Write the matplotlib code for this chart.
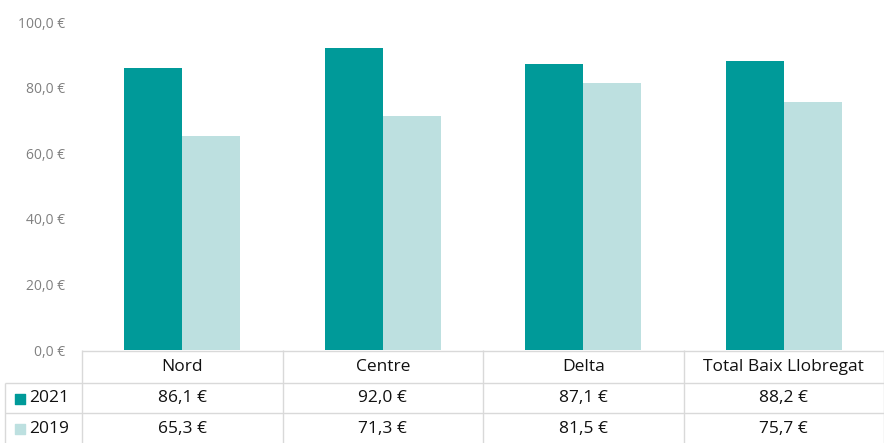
import numpy as np
from matplotlib import pyplot as plt

plt.rcParams['font.family'] = ['Open Sans', 'DejaVu Sans']

categories = ["Nord", "Centre", "Delta", "Total Baix Llobregat"]
series_names = ["2021", "2019"]
values_2021 = [86.1, 92.0, 87.1, 88.2]
values_2019 = [65.3, 71.3, 81.5, 75.7]
yticks = [0, 20, 40, 60, 80, 100]

colors = ["#009a99", "#bde0e0"]
grid_col = "#d9d9d9"
txt_col = "#111111"


def euro(v):
    return f"{v:.1f}".replace(".", ",") + " €"


W, H = 884, 443
fig = plt.figure(figsize=(W / 100, H / 100), dpi=100)

# main bar axes: plot area from x=82 to 884 px, y=22 to 350 px
ax = fig.add_axes([82 / W, (H - 350) / H, (W - 82) / W, 328 / H])
x = np.arange(len(categories))
bw = 0.29
ax.bar(x - bw / 2, values_2021, bw, color=colors[0])
ax.bar(x + bw / 2, values_2019, bw, color=colors[1])
ax.set_xlim(-0.5, len(categories) - 0.5)
ax.set_ylim(0, 100)
ax.set_yticks(yticks)
ax.set_yticklabels([euro(v) for v in yticks], color="#808080", fontsize=10)
ax.tick_params(axis="y", length=0, pad=12)
ax.set_xticks([])
for s in ax.spines.values():
    s.set_visible(False)

# data table below the plot
ppx = (W - 82) / len(categories)
tab = fig.add_axes([0, 0, 1, 93 / H])
left = -0.5 - 82 / ppx
tab.set_xlim(left, len(categories) - 0.5)
tab.set_ylim(93, 0)
tab.axis("off")
x0 = left + 5 / ppx

tab.hlines(0.5, -0.5, len(categories) - 0.5, color=grid_col, lw=1)
tab.hlines([33, 63], x0, len(categories) - 0.5, color=grid_col, lw=1)
tab.vlines(np.arange(len(categories) + 1) - 0.5, 0, 93, color=grid_col, lw=1)
tab.vlines(x0, 33, 93, color=grid_col, lw=1)

for i, c in enumerate(categories):
    tab.text(i, 17, c, ha="center", va="center", fontsize=12.5, color=txt_col)
    tab.text(i, 48.5, euro(values_2021[i]), ha="center", va="center", fontsize=12.5, color=txt_col)
    tab.text(i, 79, euro(values_2019[i]), ha="center", va="center", fontsize=12.5, color=txt_col)

for row_y, name, col in [(48.5, series_names[0], colors[0]), (79, series_names[1], colors[1])]:
    tab.scatter([left + 20 / ppx], [row_y], marker="s", s=60, color=col)
    tab.text(left + 29 / ppx, row_y, name, ha="left", va="center", fontsize=12.5, color=txt_col)

fig.savefig("out.png", dpi=100)
